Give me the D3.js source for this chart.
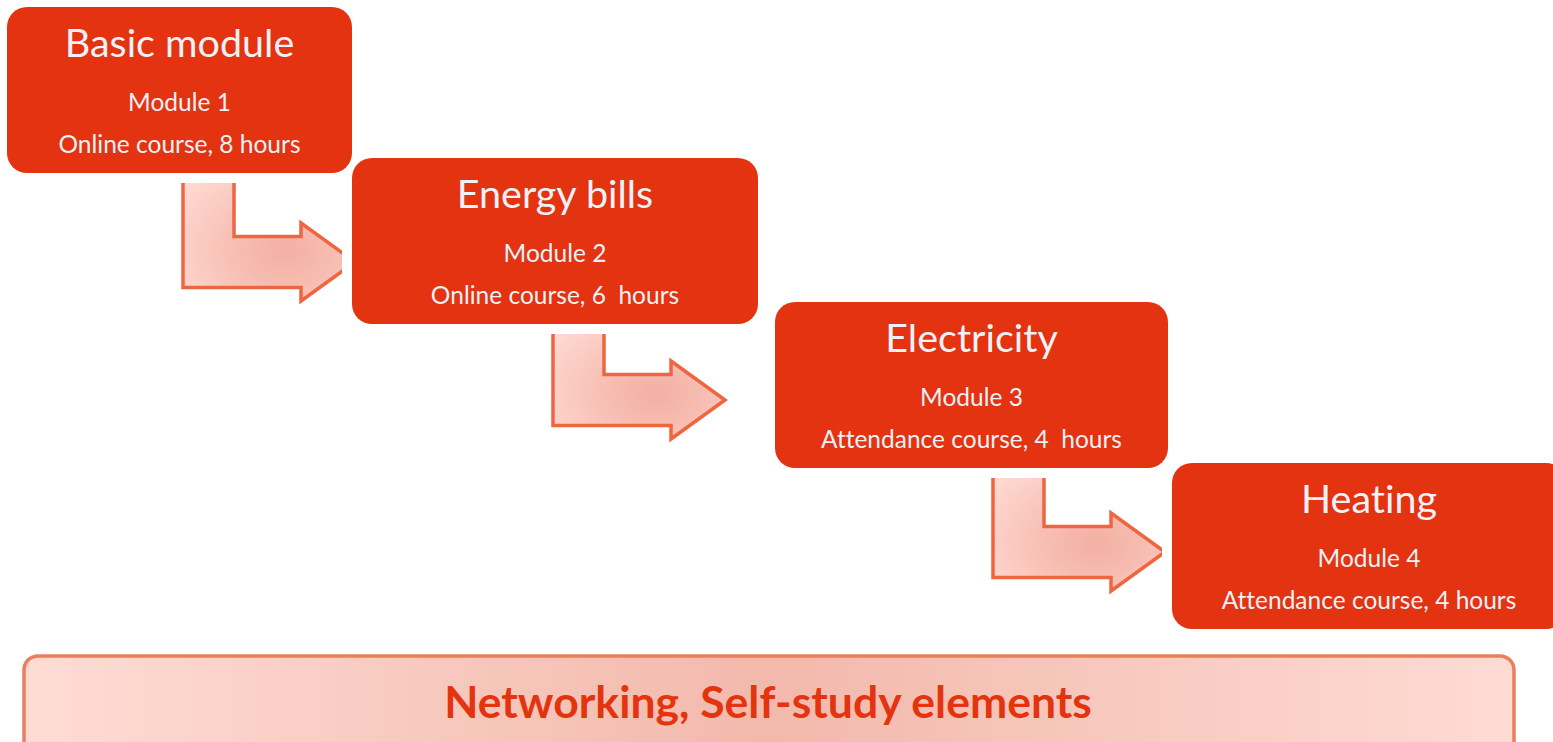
<!DOCTYPE html>
<html>
<head>
<meta charset="utf-8">
<script src="https://cdn.jsdelivr.net/npm/d3@7"></script>
<style>
  body { margin: 0; background: #fff; overflow: hidden; }
  svg { display: block; }
  text { font-family: Lato, "Open Sans", sans-serif; font-variant-ligatures: none; }
  .title, .sub { fill: #eef1f5; text-anchor: middle; }
  .footer { fill: #e4340f; text-anchor: middle; font-weight: bold; }
</style>
</head>
<body>
<div id="chart"></div>
<script>
// module steps
var titles = ["Basic module", "Energy bills", "Electricity", "Heating"];
var moduleLabels = ["Module 1", "Module 2", "Module 3", "Module 4"];
var courses = ["Online course, 8 hours", "Online course, 6  hours", "Attendance course, 4  hours", "Attendance course, 4 hours"];
var footerText = "Networking, Self-study elements";

var width = 1553;
var height = 742;
var boxHeight = 166;

var steps = d3.range(titles.length);

// staircase layout, one step per module
var xLeft = d3.scaleLinear().domain([0, 1, 2, 3]).range([7, 352, 775, 1172]);
var xRight = d3.scaleLinear().domain([0, 1, 2, 3]).range([352, 758, 1168, 1566]);
var yTop = d3.scaleLinear().domain([0, 1, 2, 3]).range([7, 158, 302, 463]);

// arrows between the steps
var arrowX = d3.scaleLinear().domain([0, 1, 2]).range([183, 553, 993]);
var arrowY = d3.scaleLinear().domain([0, 1, 2]).range([262, 400, 552]);
var bar = 51, leg = 118, headLen = 54, headH = 78;

var svg = d3.select("#chart")
  .append("svg")
  .attr("width", width)
  .attr("height", height);

var defs = svg.append("defs");

var arrowGrad = defs.append("radialGradient")
  .attr("id", "arrowFill")
  .attr("cx", 0.6).attr("cy", 0.62).attr("r", 0.8);
arrowGrad.append("stop").attr("offset", "0%").attr("stop-color", "#f3afa3");
arrowGrad.append("stop").attr("offset", "35%").attr("stop-color", "#f7bdb2");
arrowGrad.append("stop").attr("offset", "100%").attr("stop-color", "#ffdcd5");

var barGrad = defs.append("linearGradient")
  .attr("id", "barFill")
  .attr("x1", 0).attr("x2", 1).attr("y1", 0).attr("y2", 0);
barGrad.append("stop").attr("offset", "0%").attr("stop-color", "#fedcd4");
barGrad.append("stop").attr("offset", "50%").attr("stop-color", "#f2b9ac");
barGrad.append("stop").attr("offset", "100%").attr("stop-color", "#fedbd3");

function arrowPath(i) {
  var x0 = arrowX(i);
  var cy = arrowY(i);
  var top = yTop(i) + boxHeight - 5;
  var hTop = cy - bar / 2, hBot = cy + bar / 2;
  var hx = x0 + leg;
  var p = d3.path();
  p.moveTo(x0, top);
  p.lineTo(x0 + bar, top);
  p.lineTo(x0 + bar, hTop);
  p.lineTo(hx, hTop);
  p.lineTo(hx, cy - headH / 2);
  p.lineTo(hx + headLen, cy);
  p.lineTo(hx, cy + headH / 2);
  p.lineTo(hx, hBot);
  p.lineTo(x0, hBot);
  p.closePath();
  return p.toString();
}

svg.selectAll(".arrow")
  .data(d3.range(titles.length - 1))
  .enter()
  .append("path")
  .attr("class", "arrow")
  .attr("d", arrowPath)
  .attr("fill", "url(#arrowFill)")
  .attr("stroke", "#ee6640")
  .attr("stroke-width", 3.5)
  .attr("stroke-linejoin", "miter");

// white halo under every box first, so it only clips the arrows
svg.selectAll(".halo")
  .data(steps)
  .enter()
  .append("rect")
  .attr("class", "halo")
  .attr("x", function(d) { return xLeft(d); })
  .attr("y", function(d) { return yTop(d); })
  .attr("width", function(d) { return xRight(d) - xLeft(d); })
  .attr("height", boxHeight)
  .attr("rx", 20)
  .attr("fill", "#fff")
  .attr("stroke", "#fff")
  .attr("stroke-width", 20);

var boxes = svg.selectAll(".step")
  .data(steps)
  .enter()
  .append("g")
  .attr("class", "step");

boxes.append("rect")
  .attr("x", function(d) { return xLeft(d); })
  .attr("y", function(d) { return yTop(d); })
  .attr("width", function(d) { return xRight(d) - xLeft(d); })
  .attr("height", boxHeight)
  .attr("rx", 20)
  .attr("fill", "#e43311");

boxes.append("text")
  .attr("class", "title")
  .attr("x", function(d) { return (xLeft(d) + xRight(d)) / 2; })
  .attr("y", function(d) { return yTop(d) + 50; })
  .attr("font-size", 39.5)
  .text(function(d) { return titles[d]; });

boxes.append("text")
  .attr("class", "sub")
  .attr("x", function(d) { return (xLeft(d) + xRight(d)) / 2; })
  .attr("y", function(d) { return yTop(d) + 104; })
  .attr("font-size", 24.5)
  .text(function(d) { return moduleLabels[d]; });

boxes.append("text")
  .attr("class", "sub")
  .attr("x", function(d) { return (xLeft(d) + xRight(d)) / 2; })
  .attr("y", function(d) { return yTop(d) + 146; })
  .attr("font-size", 24.5)
  .style("white-space", "pre")
  .text(function(d) { return courses[d]; });

// networking bar along the bottom
svg.append("rect")
  .attr("x", 24)
  .attr("y", 656)
  .attr("width", 1490)
  .attr("height", 110)
  .attr("rx", 14)
  .attr("fill", "url(#barFill)")
  .attr("stroke", "#ec7e5e")
  .attr("stroke-width", 3.5);

svg.append("text")
  .attr("class", "footer")
  .attr("x", 768)
  .attr("y", 718)
  .attr("font-size", 44.5)
  .text(footerText);
</script>
</body>
</html>
